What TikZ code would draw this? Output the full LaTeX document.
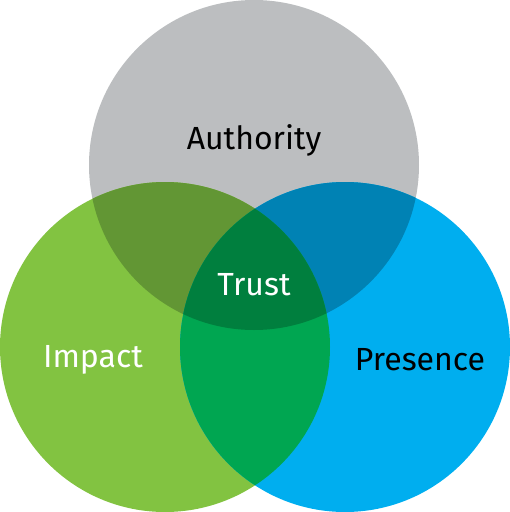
\documentclass[tikz,border=0pt]{standalone}
\usepackage{fontspec}
\setmainfont{Fira Sans}
\definecolor{authgray}{HTML}{BCBEC0}
\definecolor{impgreen}{HTML}{82C341}
\definecolor{presblue}{HTML}{00AEEF}
\definecolor{authimp}{HTML}{629634}
\definecolor{authpres}{HTML}{0082B4}
\definecolor{imppres}{HTML}{00A651}
\definecolor{trustgreen}{HTML}{007F3E}
\tikzset{label/.style={font=\fontsize{32}{36}\selectfont, inner sep=0pt}}
\begin{document}
\begin{tikzpicture}[x=1pt,y=-1pt]
		\useasboundingbox (0,0) rectangle (510,512);
		\def\authority{(254,165) circle (165)}
		\def\impact{(165,347) circle (165)}
		\def\presence{(345,347) circle (165)}
		\fill[authgray] \authority;
		\fill[impgreen] \impact;
		\fill[presblue] \presence;
		% overlaps
		\begin{scope}
			\clip \authority;
			\fill[authimp] \impact;
			\fill[authpres] \presence;
		\end{scope}
		\begin{scope}
			\clip \impact;
			\fill[imppres] \presence;
			\clip \presence;
			\fill[trustgreen] \authority;
		\end{scope}
		\node[label,black] (auth) at (254,140) {Authority};
		\node[label,white] (trust) at (254,285) {Trust};
		\node[label,white] (imp) at (93,360) {Impact};
		\node[label,black] (pres) at (420,360) {Presence};
	\end{tikzpicture}
\end{document}
